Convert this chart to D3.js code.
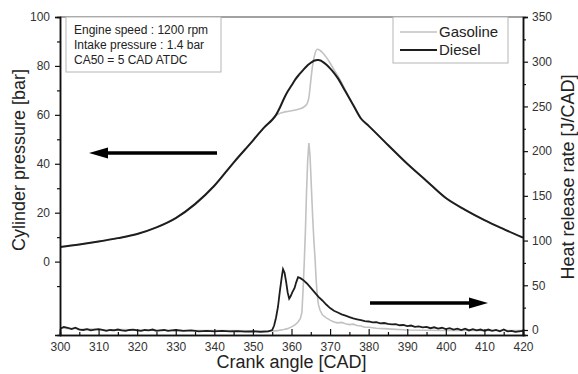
<!DOCTYPE html>
<html>
<head>
<meta charset="utf-8">
<script src="https://cdn.jsdelivr.net/npm/d3@7/dist/d3.min.js"></script>
<style>
  html, body { margin: 0; padding: 0; background: #fff; }
  svg { display: block; font-family: "Liberation Sans", Arial, sans-serif; }
</style>
</head>
<body>
<svg id="chart" width="578" height="374"></svg>
<script>
// ---------------- DATA ----------------
const seriesNames = ["Gasoline", "Diesel"];
const infoLines = ["Engine speed : 1200 rpm", "Intake pressure : 1.4 bar", "CA50 = 5 CAD ATDC"];
const xTicks = [300, 310, 320, 330, 340, 350, 360, 370, 380, 390, 400, 410, 420];
const pressureTicks = [0, 20, 40, 60, 80, 100];
const hrrTicks = [0, 50, 100, 150, 200, 250, 300, 350];

// Cylinder pressure [bar]
const pressureCAD = [300, 305, 310, 315, 320, 325, 330, 335, 340, 345, 350, 353, 355, 356, 357, 358, 359, 360, 361, 362, 363, 364, 364.5, 365, 365.5, 366, 366.7, 367, 367.5, 368, 369, 370, 371, 372, 374, 376, 378, 380, 385, 390, 395, 400, 405, 410, 415, 420];
const dieselPressure = [6.0, 7.0, 8.2, 9.6, 11.3, 14.0, 17.8, 23.5, 31, 40.5, 49.5, 55, 58, 60, 63, 66.5, 69.5, 72, 74.5, 76.5, 78.3, 80, 80.7, 81.3, 81.8, 82.2, 82.4, 82.4, 82.2, 81.8, 80.6, 79, 77.2, 75, 69.5, 64, 58.5, 55.5, 47.7, 40, 33, 26, 21.2, 17, 13.3, 9.8];
const gasolinePressure = [6.0, 7.0, 8.2, 9.6, 11.3, 14.0, 17.8, 23.5, 31, 40.5, 49.5, 55, 58, 59.8, 60.6, 61.1, 61.4, 61.7, 62, 62.4, 63, 64.5, 67, 74, 80.5, 84.5, 86.8, 86.7, 86.2, 85.5, 83.6, 81.2, 78.5, 76, 70, 64, 58.5, 55.5, 47.7, 40, 33, 26, 21.2, 17, 13.3, 9.8];

// Heat release rate [J/CAD]
const dieselHrrCAD = [300, 301, 302, 303, 304, 305, 306, 307, 308, 309, 310, 311, 312, 313, 314, 315, 316, 317, 318, 319, 320, 321, 322, 323, 324, 325, 326, 327, 328, 329, 330, 332, 334, 336, 338, 340, 342, 344, 346, 348, 350, 352, 354, 355, 355.5, 356, 356.5, 357, 357.5, 357.8, 358.2, 358.6, 359, 359.4, 359.8, 360.2, 360.8, 361.2, 361.7, 362.3, 363, 364, 365, 366, 367, 368, 369, 370, 371, 372, 373, 374, 375, 376, 377, 378, 379, 380, 381, 382, 383, 384, 385, 386, 387, 388, 389, 390, 391, 392, 393, 394, 395, 396, 397, 398, 399, 400, 401, 402, 403, 404, 405, 406, 407, 408, 409, 410, 411, 412, 413, 414, 415, 416, 417, 418, 419, 420];
const dieselHrr = [1.5, 3.5, 2.5, 1, 2.5, 0.5, 0, 1, -0.5, 0.5, 1, 0, -1, 0, -0.5, 0.5, -0.5, -1, 0, 0.5, -0.5, -1, 0, -0.5, 0.5, -1, -0.5, 0, -1, -0.5, 0, -1, -0.5, -1.5, -1, -1.5, -1, -1.5, -1.2, -1.8, -1.5, -2, -1.5, 0, 5, 14, 26, 44, 60, 68, 64, 54, 42, 35, 38, 42, 47, 53, 59, 58, 56, 52, 47, 42, 37, 33, 28.5, 24.5, 21.5, 19.5, 17.5, 16, 14.5, 13, 12, 11, 10, 9.5, 8.5, 8.8, 7.5, 7.8, 6.8, 6.3, 6.6, 5.3, 5.6, 4.3, 5, 3.6, 4.1, 3, 3.5, 2, 3, 1.5, 2.5, 1, 2, 0.5, 1.5, 0, 1.5, -0.5, 1, -0.5, 0.5, -1, 0.5, -1, 0, -1.5, 0.5, -1.5, -1, -2, -1.5, -1, 1, 3.5];

const gasolineHrrCAD = [300, 302, 304, 306, 308, 312, 316, 320, 330, 340, 350, 356, 358, 359, 360, 361, 361.7, 362.3, 362.7, 363, 363.3, 363.6, 363.9, 364.2, 364.5, 364.8, 365.1, 365.5, 365.8, 366.1, 366.4, 366.7, 367, 367.4, 368, 369, 370, 371, 372, 373, 374, 375, 376, 377, 378, 379, 380, 382, 384, 386, 390, 400, 410, 420];
const gasolineHrr = [2.5, 1.5, 2, 0.5, 1, 0, 0.5, 0, -0.5, -0.5, -1, -1, 0.5, 1.5, 3.5, 6, 9, 13, 20, 45, 75, 110, 155, 190, 209, 195, 165, 125, 100, 80, 55, 38, 28, 22, 17, 13.5, 11, 9, 8, 8.5, 7, 6, 6.5, 5, 4.5, 3, 3, 2, 1.5, 1, 0, -0.5, -0.5, -0.5];

// ---------------- LAYOUT ----------------
const svg = d3.select("#chart");
const L = 60, R = 523, T = 17, B = 335;
const x = d3.scaleLinear().domain([300, 420]).range([L, R]);
const yP = d3.scaleLinear().domain([-30, 100]).range([B, T]);
const yH = d3.scaleLinear().domain([-5.6, 350]).range([B, T]);

const gray = "#c2c2c2", dark = "#1e1e1e", textCol = "#333";

svg.append("defs").append("clipPath").attr("id", "clip")
  .append("rect").attr("x", L).attr("y", T).attr("width", R - L).attr("height", B - T);

// top frame
svg.append("line").attr("x1", L).attr("x2", R).attr("y1", T).attr("y2", T)
  .attr("stroke", "#444").attr("stroke-width", 1.2);

// ---------------- LINES ----------------
const plot = svg.append("g").attr("clip-path", "url(#clip)");
const pLine = (vals) => d3.line().x((d, i) => x(pressureCAD[i])).y(d => yP(d)).curve(d3.curveMonotoneX)(vals);
const hLine = (cads, vals) => d3.line().x((d, i) => x(cads[i])).y(d => yH(d)).curve(d3.curveLinear)(vals);

plot.append("path").attr("d", hLine(gasolineHrrCAD, gasolineHrr)).attr("fill", "none").attr("stroke", gray).attr("stroke-width", 1.6);
plot.append("path").attr("d", pLine(gasolinePressure)).attr("fill", "none").attr("stroke", gray).attr("stroke-width", 1.6);
plot.append("path").attr("d", hLine(dieselHrrCAD, dieselHrr)).attr("fill", "none").attr("stroke", dark).attr("stroke-width", 1.8);
plot.append("path").attr("d", pLine(dieselPressure)).attr("fill", "none").attr("stroke", dark).attr("stroke-width", 2);

// ---------------- AXES ----------------
function styleAxis(g) {
  g.select(".domain").attr("stroke", "#111").attr("stroke-width", 1.5);
  g.selectAll(".tick line").attr("stroke", "#111").attr("stroke-width", 1.2);
  g.selectAll(".tick text").attr("fill", textCol).attr("font-size", 12)
    .attr("font-family", "Liberation Sans, Arial, sans-serif");
}
// bottom axis: inward ticks
const xMinor = d3.range(305, 420, 10);
svg.append("g").attr("transform", `translate(0,${B})`)
  .call(d3.axisBottom(x).tickValues(xMinor).tickSize(-3).tickFormat("")).call(styleAxis);
const gx = svg.append("g").attr("transform", `translate(0,${B})`)
  .call(d3.axisBottom(x).tickValues(xTicks).tickSize(-6).tickPadding(13).tickFormat(d3.format("d")));
styleAxis(gx);
gx.selectAll(".tick text").attr("dy", "0.71em").attr("y", 7);

// left axis
svg.append("g").attr("transform", `translate(${L},0)`)
  .call(d3.axisLeft(yP).tickValues([-10, 10, 30, 50, 70, 90]).tickSize(3).tickFormat("")).call(styleAxis);
const gl = svg.append("g").attr("transform", `translate(${L},0)`)
  .call(d3.axisLeft(yP).tickValues(pressureTicks).tickSize(5).tickPadding(5).tickFormat(d3.format("d")));
styleAxis(gl);

// right axis
svg.append("g").attr("transform", `translate(${R},0)`)
  .call(d3.axisRight(yH).tickValues([25, 75, 125, 175, 225, 275, 325]).tickSize(3).tickFormat("")).call(styleAxis);
const gr = svg.append("g").attr("transform", `translate(${R},0)`)
  .call(d3.axisRight(yH).tickValues(hrrTicks).tickSize(5).tickPadding(4).tickFormat(d3.format("d")));
styleAxis(gr);

// ---------------- TITLES ----------------
svg.append("text").attr("x", (L + R) / 2).attr("y", 368).attr("text-anchor", "middle")
  .attr("font-size", 18).attr("fill", "#222").text("Crank angle [CAD]");
svg.append("text").attr("transform", `translate(25,${160}) rotate(-90)`).attr("text-anchor", "middle")
  .attr("font-size", 18).attr("fill", "#222").text("Cylinder pressure [bar]");
svg.append("text").attr("transform", `translate(574,${177}) rotate(-90)`).attr("text-anchor", "middle")
  .attr("font-size", 18).attr("fill", "#222").text("Heat release rate [J/CAD]");

// ---------------- INFO BOX ----------------
svg.append("rect").attr("x", 66).attr("y", T).attr("width", 155).attr("height", 55)
  .attr("fill", "#fff").attr("stroke", "#b5b5b5").attr("stroke-width", 1);
infoLines.forEach((t, i) => {
  svg.append("text").attr("x", 74).attr("y", 34 + i * 15).attr("font-size", 12)
    .attr("fill", "#222").text(t);
});

// ---------------- LEGEND ----------------
svg.append("rect").attr("x", 393).attr("y", T).attr("width", 115).attr("height", 46)
  .attr("fill", "#fff").attr("stroke", "#b5b5b5").attr("stroke-width", 1);
const legColors = [gray, dark];
seriesNames.forEach((n, i) => {
  const yy = 32 + i * 18;
  svg.append("line").attr("x1", 400).attr("x2", 437).attr("y1", yy).attr("y2", yy)
    .attr("stroke", legColors[i]).attr("stroke-width", i ? 2 : 1.6);
  svg.append("text").attr("x", 439).attr("y", yy + 5).attr("font-size", 15).attr("fill", "#222").text(n);
});

// ---------------- ARROWS ----------------
function arrow(x1, x2, yy) {
  const dir = Math.sign(x2 - x1);
  const headL = 19, headH = 5.5;
  svg.append("line").attr("x1", x1).attr("x2", x2 - dir * headL + dir * 2).attr("y1", yy).attr("y2", yy)
    .attr("stroke", "#000").attr("stroke-width", 3.5);
  svg.append("path").attr("d", `M${x2},${yy} L${x2 - dir * headL},${yy - headH} L${x2 - dir * headL},${yy + headH} Z`)
    .attr("fill", "#000");
}
arrow(217, 89, 153);
arrow(370, 488, 303);
</script>
</body>
</html>
